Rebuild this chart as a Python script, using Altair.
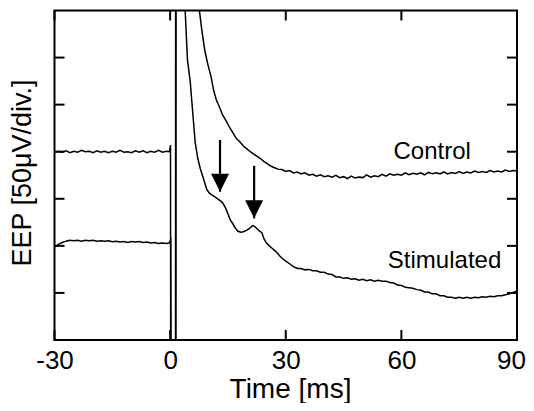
import altair as alt
import pandas as pd

FONT = "Liberation Sans"

# ---- Control trace (time in ms, EEP in divisions of 50 uV) ----
control_t = [-30, -29, -28, -27, -26, -25, -24, -23, -22, -21, -20, -19, -18, -17, -16,
             -15, -14, -13, -12, -11, -10, -9, -8, -7, -6, -5, -4, -3, -2, -1, -0.2,
             0.1, 0.15, 1.5, 1.6,
             7.6, 8.2, 9.0, 9.8, 10.6, 11.3, 12.0, 12.8, 13.6, 14.5, 15.4, 16.3, 17.2,
             18.2, 19.0, 19.9, 20.8, 21.7, 22.6, 23.5, 24.4, 25.3, 26.2, 27.1, 28.0,
             29, 30, 31, 32, 33, 34, 35, 36, 37, 38, 39, 40, 41, 42, 43, 44, 45, 46,
             47, 48, 49, 50, 51, 52, 53, 54, 55, 56, 57, 58, 59, 60, 61, 62, 63, 64,
             65, 66, 67, 68, 69, 70, 71, 72, 73, 74, 75, 76, 77, 78, 79, 80, 81, 82,
             83, 84, 85, 86, 87, 88, 89, 90]
control_v = [3.98, 4.01, 3.99, 4.02, 3.98, 4.01, 3.99, 4.03, 4.00, 4.01, 3.98, 4.02, 3.99,
             4.01, 3.98, 4.01, 3.99, 4.03, 3.99, 4.00, 3.98, 4.02, 3.99, 4.02, 3.98, 4.01,
             3.99, 4.03, 3.99, 4.01, 4.00,
             4.14, -1.0, -1.0, 30.0,
             7.0, 6.6, 6.15, 5.85, 5.6, 5.3, 5.1, 4.95, 4.78, 4.66, 4.52, 4.40, 4.28,
             4.20, 4.12, 4.06, 4.00, 3.95, 3.90, 3.85, 3.79, 3.74, 3.69, 3.66, 3.63,
             3.62, 3.58, 3.60, 3.55, 3.57, 3.53, 3.55, 3.50, 3.52, 3.48, 3.51, 3.47,
             3.49, 3.46, 3.50, 3.45, 3.47, 3.43, 3.48, 3.44, 3.46, 3.45, 3.51, 3.46,
             3.49, 3.47, 3.52, 3.48, 3.53, 3.50, 3.52, 3.50, 3.55, 3.51, 3.54, 3.52,
             3.55, 3.51, 3.56, 3.53, 3.55, 3.53, 3.57, 3.53, 3.56, 3.54, 3.58, 3.54,
             3.57, 3.55, 3.59, 3.56, 3.58, 3.56, 3.60, 3.57, 3.59, 3.57, 3.61, 3.58,
             3.60, 3.59]

# ---- Stimulated trace ----
stim_t = [-30, -29.5, -29, -28, -27, -26, -25, -24, -23, -22, -21, -20, -19, -18, -17,
          -16, -15, -14, -13, -12, -11, -10, -9, -8, -7, -6, -5, -4, -3, -2, -1, -0.3,
          0.15, 0.25, 1.4, 1.5,
          3.9, 4.5, 5.2, 6.0, 6.5, 7.2, 7.8, 8.6, 9.5, 10.2, 11.0, 12.0, 12.8, 13.6,
          14.3, 15.0, 15.6, 16.2, 16.9, 17.6, 18.3, 19.0, 19.8, 20.6, 21.4, 22.0,
          22.6, 23.2, 23.8, 24.4, 25.0, 25.6, 26.3, 27.0, 27.7, 28.5, 29.3, 30.1,
          31.0, 32.0, 33, 34, 35, 36, 37, 38, 39, 40, 41, 42, 43, 44, 45, 46, 47, 48,
          49, 50, 51, 52, 53, 54, 55, 56, 57, 58, 59, 60, 61, 62, 63, 64, 65, 66, 67,
          68, 69, 70, 71, 72, 73, 74, 75, 76, 77, 78, 79, 80, 81, 82, 83, 84, 85, 86,
          87, 88, 89, 90]
stim_v = [1.98, 2.00, 2.03, 2.07, 2.10, 2.12, 2.11, 2.12, 2.10, 2.12, 2.11, 2.12, 2.10,
          2.11, 2.10, 2.11, 2.09, 2.10, 2.08, 2.09, 2.07, 2.09, 2.08, 2.09, 2.07, 2.08,
          2.06, 2.07, 2.05, 2.06, 2.05, 2.06,
          2.12, -1.0, -1.0, 30.0,
          7.0, 5.95, 5.5, 4.7, 4.2, 3.85, 3.65, 3.44, 3.20, 3.12, 3.07, 3.02, 2.97,
          2.92, 2.82, 2.68, 2.55, 2.48, 2.38, 2.31, 2.29, 2.30, 2.33, 2.37, 2.43,
          2.41, 2.36, 2.31, 2.28, 2.14, 2.06, 2.01, 1.96, 1.91, 1.86, 1.78, 1.72,
          1.67, 1.62, 1.56, 1.52, 1.52, 1.49, 1.50, 1.47, 1.47, 1.44, 1.44, 1.40,
          1.39, 1.34, 1.34, 1.31, 1.32, 1.29, 1.30, 1.27, 1.29, 1.26, 1.28, 1.25,
          1.27, 1.25, 1.25, 1.22, 1.21, 1.17, 1.16, 1.12, 1.11, 1.10, 1.07, 1.06,
          1.02, 1.02, 0.98, 0.98, 0.94, 0.94, 0.91, 0.91, 0.89, 0.91, 0.89, 0.91,
          0.89, 0.91, 0.90, 0.92, 0.91, 0.93, 0.92, 0.94, 0.94, 0.96, 0.98, 1.01,
          1.04, 1.06, 1.07, 1.10, 1.11, 1.13]

# ---- arrows (time, shaft top, tip) ----
arrow_t = [12.95, 21.8]
arrow_top = [4.25, 3.70]
arrow_tip = [3.15, 2.585]

# ---- annotations ----
label_text = ["Control", "Stimulated"]
label_t = [68.0, 71.2]
label_v = [3.84, 1.52]

# ---- axis ticks ----
x_ticks = [-30, 0, 30, 60, 90]
y_ticks = [1, 2, 3, 4, 5, 6]

W, H = 462.5, 329.5

rows = []
for name, ts, vs in (("Control", control_t, control_v), ("Stimulated", stim_t, stim_v)):
    for i, (t, v) in enumerate(zip(ts, vs)):
        rows.append({"series": name, "i": i, "t": t, "v": v})
traces = pd.DataFrame(rows)

x_scale = alt.Scale(domain=[-30, 90], nice=False, zero=False)
y_scale = alt.Scale(domain=[0, 7], nice=False, zero=False)

x_axis = alt.Axis(values=x_ticks, title="Time [ms]", labelFont=FONT, labelFontSize=26,
                  labelColor="black", labelFlush=False, labelPadding=28,
                  labelExpr="'' + datum.value",
                  labelOffset={"condition": {"test": "datum.value == 90", "value": -6},
                               "value": 0},
                  labelBaseline="alphabetic", ticks=False, domain=False, grid=False,
                  titleFont=FONT, titleFontSize=28, titleFontWeight="normal",
                  titleColor="black", titleX=235.5, titleY=57.5, titleBaseline="alphabetic",
                  titleAlign="center")
y_axis = alt.Axis(labels=False, ticks=False, domain=False, grid=False,
                  title="EEP [50μV/div.]", titleFont=FONT, titleFontSize=27,
                  titleFontWeight="normal", titleColor="black", titleAngle=-90,
                  titleX=-24, titleY=162, titleBaseline="alphabetic", titleAlign="center")

X = alt.X("t:Q", scale=x_scale, axis=x_axis)
Y = alt.Y("v:Q", scale=y_scale, axis=y_axis)

lines = alt.Chart(traces).mark_line(color="black", strokeWidth=1.5, clip=True).encode(
    x=X, y=Y, detail="series:N", order="i:Q")

xt = pd.DataFrame({"t": x_ticks})
yt = pd.DataFrame({"v": y_ticks})
tick_bottom = alt.Chart(xt).mark_rule(color="black", strokeWidth=2).encode(
    x=X, y=alt.value(H), y2=alt.value(H - 10))
tick_top = alt.Chart(xt).mark_rule(color="black", strokeWidth=2).encode(
    x=X, y=alt.value(0), y2=alt.value(10))
tick_left = alt.Chart(yt).mark_rule(color="black", strokeWidth=2).encode(
    y=Y, x=alt.value(0), x2=alt.value(10))
tick_right = alt.Chart(yt).mark_rule(color="black", strokeWidth=2).encode(
    y=Y, x=alt.value(W), x2=alt.value(W - 10))

arrows = pd.DataFrame({"t": arrow_t, "top": arrow_top, "v": arrow_tip})
shafts = alt.Chart(arrows).mark_rule(color="black", strokeWidth=2.2).encode(
    x=X, y=alt.Y("top:Q", scale=y_scale, axis=y_axis), y2="v:Q")
heads = alt.Chart(arrows).mark_point(shape="M-1,-1L1,-1L0,1Z", filled=True, size=324,
                                     color="black", opacity=1, strokeWidth=0,
                                     yOffset=-9).encode(x=X, y=Y)

labels = pd.DataFrame({"t": label_t, "v": label_v, "text": label_text})
texts = alt.Chart(labels).mark_text(font=FONT, fontSize=24, color="black", align="center",
                                    baseline="alphabetic").encode(x=X, y=Y, text="text:N")

chart = alt.layer(lines, tick_bottom, tick_top, tick_left, tick_right, shafts, heads, texts
                  ).properties(
    width=W, height=H, autosize="none",
    padding={"left": 46.5, "top": 2.5, "right": 9, "bottom": 63},
    background="white",
).configure_view(stroke="black", strokeWidth=2)

chart.save("out.html", embed_options={"renderer": "svg", "actions": False})
